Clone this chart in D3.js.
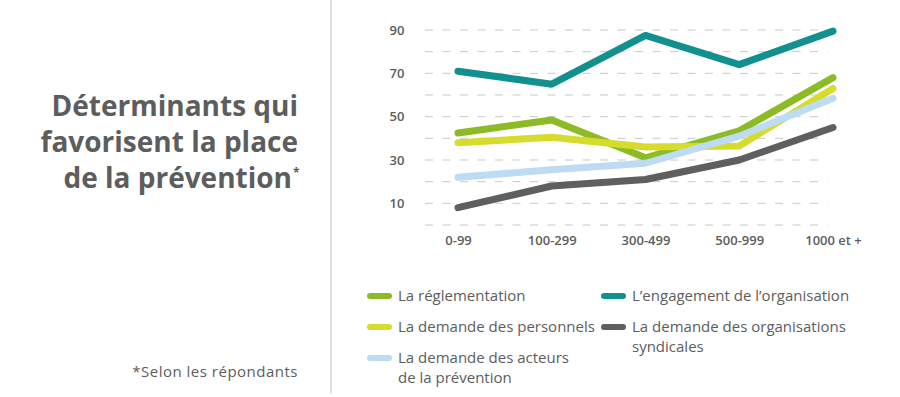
<!DOCTYPE html>
<html>
<head>
<meta charset="utf-8">
<script src="https://cdn.jsdelivr.net/npm/d3@7"></script>
<style>
  body { margin: 0; background: #fff; }
  svg { display: block; font-family: "Open Sans", sans-serif; }
</style>
</head>
<body>
<svg id="chart" width="900" height="397"></svg>
<script>
// categories (taille de l'organisation)
var categories = ["0-99", "100-299", "300-499", "500-999", "1000 et +"];
var yTicks = [10, 30, 50, 70, 90];
var gridValues = [0, 10, 20, 30, 40, 50, 60, 70, 80, 90];

// series values (%)
var reglementation = [42.5, 48.5, 31, 43.5, 68];
var engagement = [71, 65, 87.5, 74, 89.5];
var personnels = [38, 40.5, 36, 36.5, 63];
var acteurs = [22, 25.5, 28.5, 41, 58.5];
var syndicales = [8, 18, 21, 30, 45];

var series = [
  {name: "L’engagement de l’organisation", values: engagement, color: "#12908f"},
  {name: "La réglementation", values: reglementation, color: "#8cbb25"},
  {name: "La demande des personnels", values: personnels, color: "#d5dc2c"},
  {name: "La demande des acteurs de la prévention", values: acteurs, color: "#bddcf3"},
  {name: "La demande des organisations syndicales", values: syndicales, color: "#5f5f5f"}
];
var colorOf = {};
series.forEach(function(s){ colorOf[s.name] = s.color; });

var svg = d3.select("#chart");
var textColor = "#5d5d5d";

// left panel: title + divider
svg.append("line")
  .attr("x1", 331).attr("x2", 331).attr("y1", 0).attr("y2", 394)
  .attr("stroke", "#e2e2e2").attr("stroke-width", 2);

var title = svg.append("text")
  .attr("text-anchor", "end")
  .attr("fill", textColor)
  .attr("font-size", 28)
  .attr("font-weight", 700);
title.append("tspan").attr("x", 298).attr("y", 116).text("Déterminants qui");
title.append("tspan").attr("x", 298).attr("y", 152).text("favorisent la place");
title.append("tspan").attr("x", 292).attr("y", 188).text("de la prévention");

svg.append("text")
  .attr("x", 293).attr("y", 177)
  .attr("fill", textColor).attr("font-size", 12).attr("font-weight", 700)
  .text("*");

svg.append("text")
  .attr("x", 298).attr("y", 377)
  .attr("text-anchor", "end")
  .attr("fill", textColor).attr("font-size", 15)
  .attr("letter-spacing", 0.5)
  .text("*Selon les répondants");

// chart
var xScale = d3.scalePoint().domain(categories).range([458, 833]);
var yScale = d3.scaleLinear().domain([0, 90]).range([225, 30]);

svg.append("g").selectAll("line.grid")
  .data(gridValues)
  .enter().append("line")
  .attr("class", "grid")
  .attr("x1", 425).attr("x2", 828)
  .attr("y1", function(d){ return yScale(d); })
  .attr("y2", function(d){ return yScale(d); })
  .attr("stroke", "#c9c9c9")
  .attr("stroke-width", 1)
  .attr("stroke-dasharray", "8,9.5");

var yAxis = svg.append("g")
  .attr("transform", "translate(397,0)")
  .call(d3.axisLeft(yScale).tickValues(yTicks).tickSize(0).tickPadding(0));
yAxis.select(".domain").remove();
yAxis.selectAll("text")
  .attr("text-anchor", "middle")
  .attr("fill", textColor)
  .attr("font-size", 13)
  .attr("font-weight", 600)
  .attr("font-family", "Open Sans, sans-serif");

var xAxis = svg.append("g")
  .attr("transform", "translate(0,236)")
  .call(d3.axisBottom(xScale).tickSize(0).tickPadding(0));
xAxis.select(".domain").remove();
xAxis.selectAll("text")
  .attr("fill", textColor)
  .attr("font-size", 13)
  .attr("font-weight", 600)
  .attr("font-family", "Open Sans, sans-serif");

var line = d3.line()
  .x(function(d, i){ return xScale(categories[i]); })
  .y(function(d){ return yScale(d); });

svg.append("g").selectAll("path.serie")
  .data(series)
  .enter().append("path")
  .attr("class", "serie")
  .attr("d", function(d){ return line(d.values); })
  .attr("fill", "none")
  .attr("stroke", function(d){ return d.color; })
  .attr("stroke-width", 7)
  .attr("stroke-linejoin", "round")
  .attr("stroke-linecap", "round");

// legend
var legendItems = [
  {name: "La réglementation", lines: ["La réglementation"], x: 367, y: 296},
  {name: "L’engagement de l’organisation", lines: ["L’engagement de l’organisation"], x: 601, y: 296},
  {name: "La demande des personnels", lines: ["La demande des personnels"], x: 367, y: 327},
  {name: "La demande des organisations syndicales", lines: ["La demande des organisations", "syndicales"], x: 601, y: 327},
  {name: "La demande des acteurs de la prévention", lines: ["La demande des acteurs", "de la prévention"], x: 367, y: 358}
];

var leg = svg.append("g").selectAll("g.leg")
  .data(legendItems)
  .enter().append("g")
  .attr("class", "leg")
  .attr("transform", function(d){ return "translate(" + d.x + "," + d.y + ")"; });

leg.append("line")
  .attr("x1", 3).attr("x2", 22).attr("y1", 0).attr("y2", 0)
  .attr("stroke", function(d){ return colorOf[d.name]; })
  .attr("stroke-width", 6)
  .attr("stroke-linecap", "round");

leg.append("text")
  .attr("fill", textColor)
  .attr("font-size", 15)
  .selectAll("tspan")
  .data(function(d){ return d.lines; })
  .enter().append("tspan")
  .attr("x", 31)
  .attr("y", function(d, i){ return 5 + i * 20; })
  .text(function(d){ return d; });
</script>
</body>
</html>
